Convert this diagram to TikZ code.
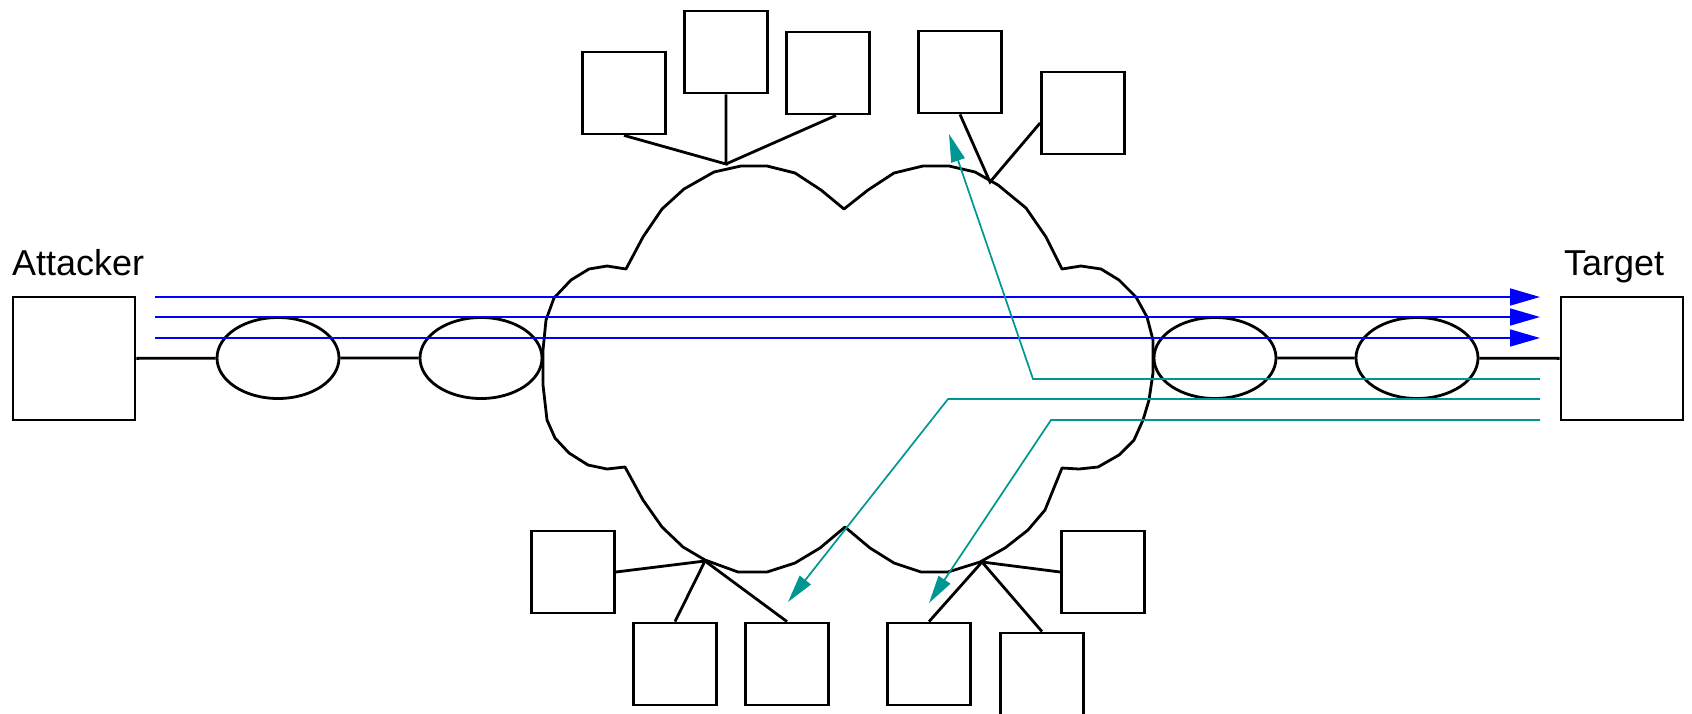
\documentclass[tikz,border=0pt]{standalone}
\usepackage{fontspec}
\setmainfont{Liberation Sans}
\usetikzlibrary{arrows.meta,shapes.geometric,calc}
\definecolor{flowteal}{RGB}{0,150,145}
\tikzset{
  host/.style={draw,line width=1.4pt,minimum width=61pt,minimum height=61.5pt,inner sep=0pt},
  smallhost/.style={draw,line width=1.4pt,minimum width=41.5pt,minimum height=41pt,inner sep=0pt},
  router/.style={draw,ellipse,line width=1.4pt,minimum width=61pt,minimum height=40.5pt,inner sep=0pt},
  link/.style={line width=1.4pt},
  attack/.style={blue,line width=0.85pt,-{Triangle[length=15pt,width=8.5pt]}},
  reply/.style={flowteal,line width=0.85pt,-{Triangle[length=14pt,width=7pt]}},
  lbl/.style={anchor=base west,inner sep=0pt,font=\fontsize{18}{20}\selectfont}
}
\begin{document}
\begin{tikzpicture}[x=0.5pt,y=-0.5pt]
  \useasboundingbox (0,0) rectangle (1692,713);
  % the network cloud
  \draw[link,line join=round] (554,298) -- (571,280) -- (589,269) -- (607,266) -- (626,269)
    -- (643,237) -- (662,209) -- (684,189) -- (714,172) -- (741,166) -- (767,166)
    -- (795,173) -- (821,190) -- (844,209) -- (868,190) -- (894,173) -- (923,166)
    -- (949,166) -- (975,172) -- (998,185) -- (1026,208) -- (1046,237) -- (1062,269)
    -- (1081,266) -- (1101,269) -- (1119,280) -- (1136,297) -- (1147,317) -- (1153,340)
    -- (1153,373) -- (1149,400) -- (1143,420) -- (1134,440) -- (1119,455) -- (1098,467)
    -- (1079,469) -- (1062,468) -- (1045,510) -- (1028,530) -- (1005,548) -- (980,562)
    -- (948,572) -- (921,572) -- (894,563) -- (870,548) -- (845,527) -- (820,548)
    -- (795,563) -- (767,572) -- (738,572) -- (705,560) -- (683,547) -- (662,527)
    -- (643,500) -- (625,467) -- (607,469) -- (588,465) -- (569,453) -- (555,438)
    -- (547,420) -- (543,385) -- (543,350) -- (546,320) -- cycle;

  % end hosts and routers
  \node[host] (attacker) at (74,358.5) {};
  \node[host] (target) at (1622,358.5) {};
  \node[lbl] (attackerlbl) at ([yshift=10pt]attacker.north west) {Attacker};
  \node[lbl] (targetlbl) at ([xshift=2pt,yshift=10pt]target.north west) {Target};
  \node[router] (r1) at (278,358) {};
  \node[router] (r2) at (481,358) {};
  \node[router] (r3) at (1215,358) {};
  \node[router] (r4) at (1417,358) {};
  \draw[link] (attacker) -- (r1) -- (r2);
  \draw[link] (r3) -- (r4) -- (target);

  % reflectors around the cloud
  \node[smallhost] (ta) at (624,93) {};
  \node[smallhost] (tb) at (726,52) {};
  \node[smallhost] (tc) at (828,73) {};
  \node[smallhost] (td) at (960,72) {};
  \node[smallhost] (te) at (1083,113) {};
  \node[smallhost] (bf) at (573,572) {};
  \node[smallhost] (bg) at (675,664) {};
  \node[smallhost] (bh) at (787,664) {};
  \node[smallhost] (bi) at (929,664) {};
  \node[smallhost] (bj) at (1042,674) {};
  \node[smallhost] (bk) at (1103,572) {};
  \coordinate (jtl) at (726,164);
  \coordinate (jtr) at (990,182);
  \coordinate (jbl) at (705,561);
  \coordinate (jbr) at (982,562);
  \draw[link] (ta.south) -- (jtl) -- (tb.south);
  \draw[link] (jtl) -- ([xshift=4pt]tc.south);
  \draw[link] (td.south) -- (jtr) -- ([yshift=-5pt]te.west);
  \draw[link] (bf.east) -- (jbl) -- (bg.north);
  \draw[link] (jbl) -- (bh.north);
  \draw[link] (bi.north) -- (jbr) -- (bj.north);
  \draw[link] (jbr) -- (bk.west);

  % attack traffic
  \foreach \n/\y in {1/297,2/317,3/338} {
    \coordinate (as\n) at (155,\y);
    \coordinate (ae\n) at (1540,\y);
    \draw[attack] (as\n) -- (ae\n);
  }

  % reflected traffic
  \coordinate (rs1) at (1540,379);
  \coordinate (rb1) at (1033,379);
  \coordinate (rt1) at (949,134);
  \coordinate (rs2) at (1540,399);
  \coordinate (rb2) at (948,399);
  \coordinate (rt2) at (788,602);
  \coordinate (rs3) at (1540,420);
  \coordinate (rb3) at (1051,420);
  \coordinate (rt3) at (929,603);
  \draw[reply] (rs1) -- (rb1) -- (rt1);
  \draw[reply] (rs2) -- (rb2) -- (rt2);
  \draw[reply] (rs3) -- (rb3) -- (rt3);
\end{tikzpicture}
\end{document}
